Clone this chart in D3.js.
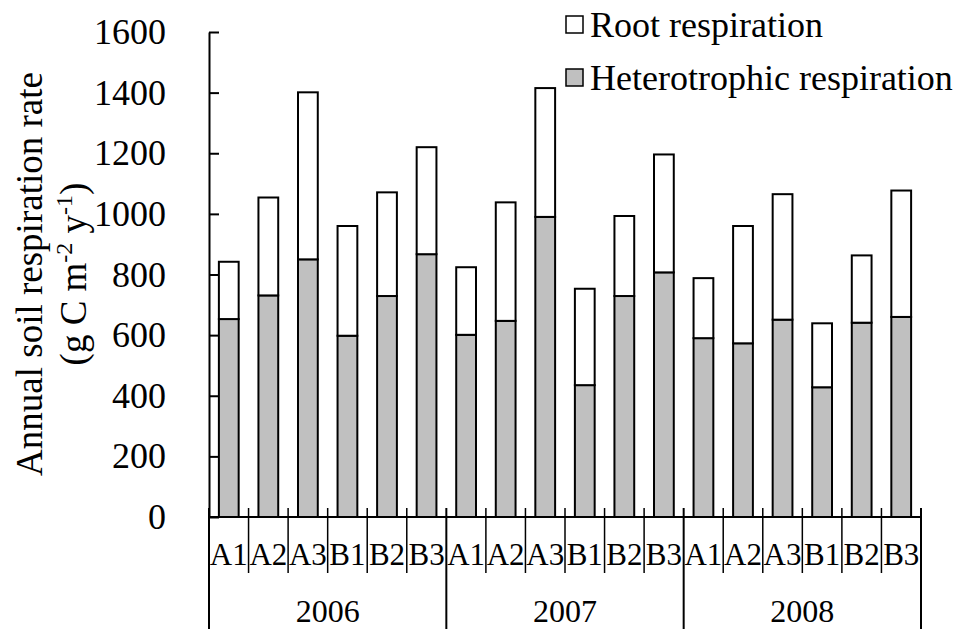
<!DOCTYPE html>
<html lang="en">
<head>
  <meta charset="utf-8">
  <title>Annual soil respiration</title>
  <script src="https://d3js.org/d3.v7.min.js"></script>
  <style type="text/css">
    body {
      margin: 0;
      background-color: white;
    }
    text {
      font-family: "Liberation Serif", "Times New Roman", serif;
      fill: black;
    }
  </style>
</head>
<body>
  <svg></svg>
  <script type="text/javascript">

  // values (g C m-2 y-1)
  const years = ["2006", "2007", "2008"];
  const plots = ["A1", "A2", "A3", "B1", "B2", "B3"];
  const heterotrophic = [653, 731, 850, 598, 729, 867,
                         601, 647, 990, 435, 729, 807,
                         590, 573, 651, 428, 641, 660];
  const root = [189, 323, 551, 362, 342, 353,
                223, 391, 425, 318, 264, 389,
                198, 387, 414, 211, 222, 417];
  const yTicks = [0, 200, 400, 600, 800, 1000, 1200, 1400, 1600];
  const seriesNames = {het: "Heterotrophic respiration", root: "Root respiration"};

  const width = 976;
  const height = 629;

  const rows = years.flatMap((yr, i) => plots.map((p, j) => ({
    key: yr + "-" + p,
    year: yr,
    plot: p,
    het: heterotrophic[i * plots.length + j],
    root: root[i * plots.length + j]
  })));

  const svg = d3.select("svg")
    .attr("width", width)
    .attr("height", height);

  const x = d3.scaleBand()
    .domain(rows.map(d => d.key))
    .range([209, 921])
    .paddingInner(0.5)
    .paddingOuter(0.25);

  const y = d3.scaleLinear()
    .domain([0, 1600])
    .range([517, 32]);

  const fills = {het: "#c0c0c0", root: "white"};

  const stacked = d3.stack().keys(["het", "root"])(rows);

  // bars
  svg.append("g")
    .selectAll("g")
    .data(stacked)
    .join("g")
    .attr("fill", s => fills[s.key])
    .selectAll("rect")
    .data(s => s)
    .join("rect")
    .attr("x", d => x(d.data.key))
    .attr("width", x.bandwidth())
    .attr("y", d => y(d[1]))
    .attr("height", d => y(d[0]) - y(d[1]))
    .attr("stroke", "black")
    .attr("stroke-width", 2);

  // y axis, ticks pointing inward
  const yAxis = svg.append("g")
    .attr("transform", "translate(209,0)")
    .call(d3.axisLeft(y)
      .tickValues(yTicks)
      .tickFormat(d3.format("d"))
      .tickSizeInner(-10)
      .tickSizeOuter(0)
      .tickPadding(43));
  yAxis.select(".domain").attr("stroke-width", 2);
  yAxis.selectAll(".tick line").attr("stroke-width", 2);
  yAxis.selectAll(".tick text")
    .attr("font-size", 36);

  // category axis baseline
  svg.append("line")
    .attr("x1", 209).attr("x2", 921)
    .attr("y1", y(0)).attr("y2", y(0))
    .attr("stroke", "black")
    .attr("stroke-width", 2);

  // dividers between plots, longer ones between years
  const step = x.step();
  const edges = d3.range(rows.length + 1);
  svg.append("g")
    .selectAll("line")
    .data(edges)
    .join("line")
    .attr("x1", i => 209 + i * step)
    .attr("x2", i => 209 + i * step)
    .attr("y1", y(0) - 9)
    .attr("y2", i => i % plots.length === 0 ? height : 573)
    .attr("stroke", "black")
    .attr("stroke-width", i => i % plots.length === 0 ? 2 : 1.5);

  // plot labels
  svg.append("g")
    .selectAll("text")
    .data(rows)
    .join("text")
    .attr("x", d => x(d.key) + x.bandwidth() / 2)
    .attr("y", 565)
    .attr("text-anchor", "middle")
    .attr("font-size", 31)
    .text(d => d.plot);

  // year labels
  svg.append("g")
    .selectAll("text")
    .data(years)
    .join("text")
    .attr("x", (d, i) => 209 + (i * plots.length + plots.length / 2) * step)
    .attr("y", 622)
    .attr("text-anchor", "middle")
    .attr("font-size", 32)
    .text(d => d);

  // y title
  const yTitle = svg.append("g")
    .attr("text-anchor", "middle")
    .attr("font-size", 37);
  yTitle.append("text")
    .attr("transform", "translate(42,274) rotate(-90)")
    .text("Annual soil respiration rate");
  const unit = yTitle.append("text")
    .attr("transform", "translate(86,274) rotate(-90)");
  unit.append("tspan").text("(g C m");
  unit.append("tspan").attr("font-size", 24).attr("dy", -14).text("-2");
  unit.append("tspan").attr("dy", 14).text(" y");
  unit.append("tspan").attr("font-size", 24).attr("dy", -14).text("-1");
  unit.append("tspan").attr("dy", 14).text(")");

  // legend
  const legend = svg.append("g")
    .selectAll("g")
    .data(["root", "het"])
    .join("g")
    .attr("transform", (d, i) => "translate(566," + (16 + i * 53) + ")");
  legend.append("rect")
    .attr("width", 17)
    .attr("height", 17)
    .attr("fill", d => fills[d])
    .attr("stroke", "black")
    .attr("stroke-width", 1.5);
  legend.append("text")
    .attr("x", 24)
    .attr("y", 21)
    .attr("font-size", 36)
    .text(d => seriesNames[d]);

  </script>
</body>
</html>
